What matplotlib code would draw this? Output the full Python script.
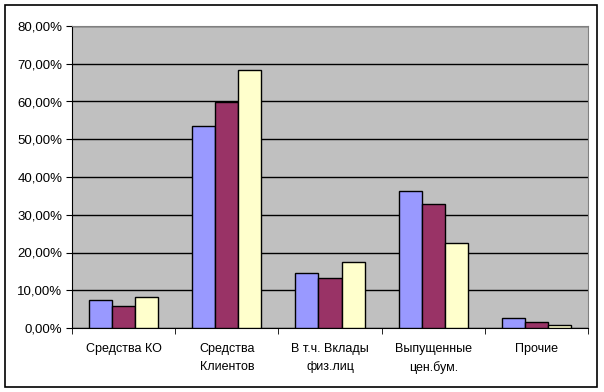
import numpy as np
import matplotlib
matplotlib.use("Agg")
import matplotlib.pyplot as plt
from matplotlib.patches import Rectangle
from matplotlib.ticker import FuncFormatter, MultipleLocator

plt.rcParams['font.family'] = ['Liberation Sans', 'DejaVu Sans']

# ---------- data ----------
categories = ["Средства КО", "Средства\nКлиентов", "В т.ч. Вклады\nфиз.лиц",
              "Выпущенные\nцен.бум.", "Прочие"]
series_1 = [7.4, 53.5, 14.5, 36.2, 2.6]
series_2 = [5.8, 59.9, 13.2, 32.8, 1.5]
series_3 = [8.2, 68.3, 17.4, 22.4, 0.7]
colors = ["#9999FF", "#993366", "#FFFFCC"]

# ---------- figure ----------
W, H = 604, 392
fig = plt.figure(figsize=(W/100, H/100), dpi=100)
fig.patch.set_facecolor("white")
fig.patches.append(Rectangle((5/W, 5/H), 592/W, 382/H, transform=fig.transFigure,
                             fill=False, edgecolor="black", linewidth=1.2))

ax = fig.add_axes([72/W, 1 - 328/H, (588-72)/W, (328-26)/H])
ax.set_facecolor("#C0C0C0")

x = np.arange(len(categories))
bw = 0.223
for i, vals in enumerate([series_1, series_2, series_3]):
    ax.bar(x + (i-1)*bw, vals, width=bw, color=colors[i], edgecolor="black",
           linewidth=1.0, zorder=3)

ax.set_xlim(-0.5, len(categories) - 0.5)
ax.set_ylim(0, 80)
ax.yaxis.set_major_locator(MultipleLocator(10))
ax.yaxis.set_major_formatter(FuncFormatter(lambda v, p: f"{v:.2f}%".replace(".", ",")))
ax.grid(axis="y", color="black", linewidth=1.0, zorder=1)

ax.set_xticks(x)
ax.set_xticklabels(categories, fontsize=9, linespacing=1.6)
ax.set_xticks(np.arange(-0.5, len(categories)), minor=True)
ax.tick_params(axis="x", which="major", length=0, pad=11)
ax.tick_params(axis="x", which="minor", length=4, direction="out", color="black")
ax.tick_params(axis="y", length=4, direction="out", labelsize=9.5, pad=3)

for s in ["top", "right"]:
    ax.spines[s].set_color("#808080")
for s in ["left", "bottom"]:
    ax.spines[s].set_color("black")

fig.savefig("out.png", dpi=100)
